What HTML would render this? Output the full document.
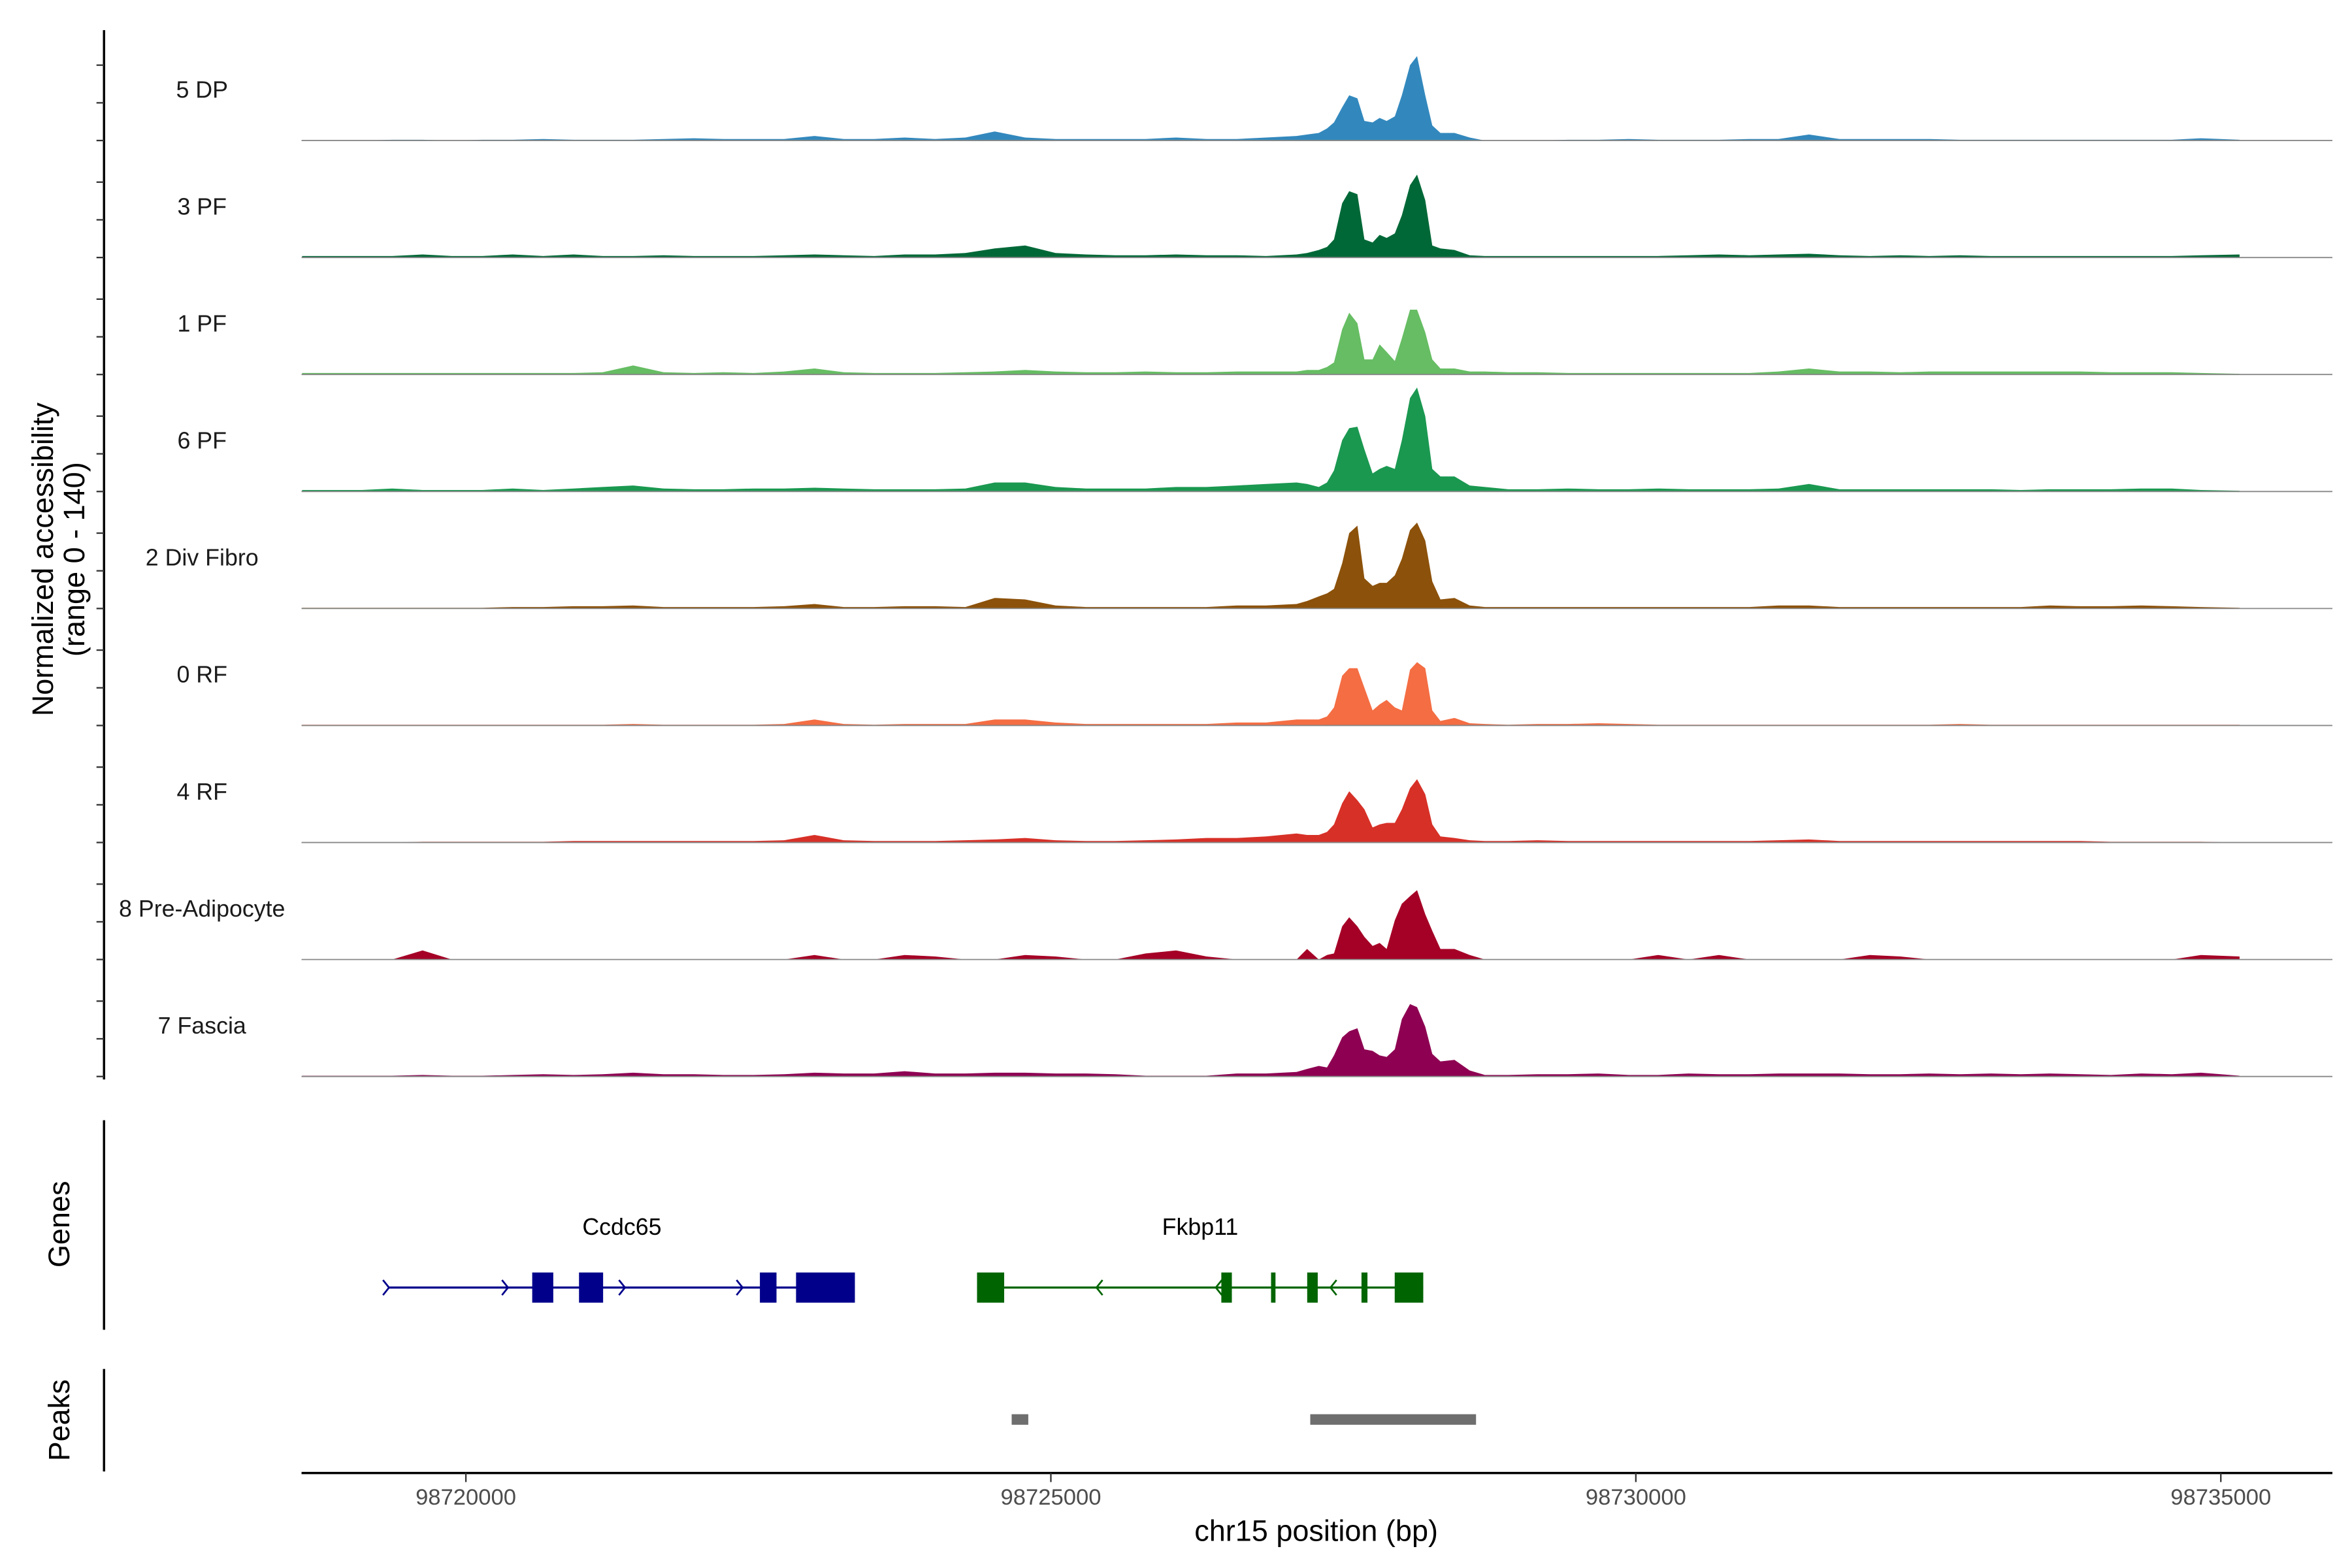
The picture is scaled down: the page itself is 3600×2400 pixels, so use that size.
<!DOCTYPE html>
<html><head><meta charset="utf-8"><style>html,body{margin:0;padding:0;background:#fff}svg{display:block}text{font-family:"Liberation Sans",Arial,sans-serif}</style></head>
<body>
<svg id="chart" width="3600" height="2400" viewBox="0 0 1560 1040" xmlns="http://www.w3.org/2000/svg">
<g id="tracks"></g>
<g id="genes"></g>
<g id="peaks"></g>
<g id="axes"></g>
<text transform="translate(35,371) rotate(-90)" text-anchor="middle" font-size="19.5" fill="#000">Normalized accessibility</text>
<text transform="translate(56,371) rotate(-90)" text-anchor="middle" font-size="19.5" fill="#000">(range 0 - 140)</text>
<text transform="translate(46,812) rotate(-90)" text-anchor="middle" font-size="19.5" fill="#000">Genes</text>
<text transform="translate(46,942) rotate(-90)" text-anchor="middle" font-size="19.5" fill="#000">Peaks</text>
<text x="873" y="1022" text-anchor="middle" font-size="19.5" fill="#000">chr15 position (bp)</text>
</svg>
<script>
const positions = [98718600,98718850,98719110,98719370,98719630,98719880,98720140,98720400,98720660,98720920,98721170,98721430,98721690,98721950,98722200,98722460,98722720,98722980,98723230,98723490,98723750,98724010,98724270,98724520,98724780,98725040,98725300,98725550,98725810,98726070,98726330,98726590,
98726840,98727100,98727190,98727290,98727360,98727420,98727490,98727550,98727620,98727680,98727750,98727810,98727870,98727940,98728000,98728070,98728130,98728200,98728260,98728330,98728450,98728580,98728710,
98728910,98729160,98729420,98729680,98729940,98730190,98730450,98730710,98730970,98731220,98731480,98731740,98732000,98732260,98732510,98732770,98733030,98733290,98733540,98733800,98734060,98734320,98734580,98734830,98735160];
const trackNames = ["5 DP","3 PF","1 PF","6 PF","2 Div Fibro","0 RF","4 RF","8 Pre-Adipocyte","7 Fascia"];
const trackColors = ["#3288bd","#006837","#66bd63","#1a9850","#8c510a","#f46d43","#d73027","#a50026","#8e0152"];
const dp5 = [0,0,0,1,1,0,1,1,2,1,1,1,2,3,2,2,2,6,2,2,4,2,4,12,4,2,2,2,2,4,2,2, 4,6,8,10,16,24,44,60,56,26,24,30,26,32,60,100,112,60,20,10,10,4,0, 0,0,1,1,2,1,1,1,2,2,8,2,2,2,2,1,1,1,1,1,1,1,1,3,1];
const pf3 = [2,2,2,2,4,2,2,4,2,4,2,2,3,2,2,2,3,4,3,2,4,4,6,12,16,6,4,3,3,4,3,3, 2,4,6,10,14,24,72,88,84,24,20,30,26,32,56,96,110,76,16,12,10,3,2, 2,2,2,2,2,2,3,4,3,4,5,3,2,3,2,3,2,2,2,2,2,2,2,3,4];
const pf1 = [2,2,2,2,2,2,2,2,2,2,3,12,3,2,3,2,4,8,3,2,2,2,3,4,6,4,3,3,4,3,3,4, 4,4,6,6,10,16,60,82,68,20,20,40,30,18,48,86,86,56,20,8,8,4,4, 3,3,2,2,2,2,2,2,2,4,8,4,4,3,4,4,4,4,4,4,3,3,3,2,1];
const pf6 = [2,2,2,4,2,2,2,4,2,4,6,8,4,3,3,4,4,5,4,3,3,3,4,12,12,6,4,4,4,6,6,8, 10,12,10,6,12,28,68,84,86,56,24,30,34,30,68,124,138,100,30,20,20,8,6, 3,3,4,3,3,4,3,3,3,4,10,3,3,3,3,3,3,2,3,3,3,4,4,2,1];
const divFibro2 = [1,1,1,1,1,1,1,2,2,3,3,4,2,2,2,2,3,6,2,2,3,3,2,14,12,4,2,2,2,2,2,4, 4,6,10,16,20,26,60,100,110,40,30,34,34,44,66,104,114,90,36,12,14,4,2, 2,2,2,2,2,2,2,2,2,4,4,2,2,2,2,2,2,2,4,3,3,4,3,2,1];
const rf0 = [1,1,1,1,1,1,1,1,1,1,1,2,1,1,1,1,2,8,2,1,2,2,2,8,8,4,2,2,2,2,2,4, 4,8,8,8,12,24,66,76,76,50,20,28,34,24,20,74,84,76,20,6,10,3,2, 1,2,2,3,2,1,1,1,1,1,1,1,1,1,1,2,1,1,1,1,1,1,1,1,1];
const rf4 = [0,0,0,0,1,1,1,1,1,2,2,2,2,2,2,2,3,10,3,2,2,2,3,4,6,3,2,2,3,4,6,6, 8,12,10,10,14,24,52,68,56,44,20,24,26,26,44,72,84,64,24,8,6,3,2, 2,3,2,2,2,2,2,2,2,3,4,2,2,2,2,2,2,2,2,2,1,1,1,1,0];
const preAdipo8 = [0,0,0,0,12,0,0,0,0,0,0,0,0,0,0,0,0,6,0,0,6,4,0,0,6,4,0,0,8,12,4,0, 0,0,14,0,6,8,44,56,44,30,18,22,14,52,74,84,92,60,38,14,14,6,0, 0,0,0,0,0,6,0,6,0,0,0,0,6,4,0,0,0,0,0,0,0,0,0,6,4];
const fascia7 = [1,1,1,1,2,1,1,2,3,2,3,5,3,3,2,2,3,5,4,4,7,4,4,5,5,4,4,3,1,1,1,4, 4,6,10,14,12,28,52,60,64,36,34,28,26,36,76,96,92,66,30,20,22,8,2, 2,3,3,4,2,2,4,3,3,4,4,4,3,3,4,3,4,3,4,3,2,4,3,5,1];
const trackValues = [dp5,pf3,pf1,pf6,divFibro2,rf0,rf4,preAdipo8,fascia7];
const xTicks = [98720000,98725000,98730000,98735000];
const geneNames = ["Ccdc65","Fkbp11"];
const geneStarts = [98719343,98724369];
const geneEnds = [98723325,98728183];
const geneStrands = [1,-1];
const geneColors = ["#00008b","#006400"];
const geneExons = [[[98720567,98720747],[98720967,98721173],[98722513,98722655],[98722822,98723325]],
 [[98724369,98724601],[98726457,98726547],[98726882,98726920],[98727191,98727281],[98727655,98727706],[98727939,98728183]]];
const geneArrows = [[98719343,98720360,98721360,98722365],[98725390,98726410,98727390]];
const peakStarts = [98724665,98727217];
const peakEnds = [98724807,98728634];

const NS="http://www.w3.org/2000/svg";
const X0=200,X1=1547;
function xs(bp){return 309+(bp-98720000)/5000*388;}
const yMax=140, trackPx=70, firstBase=93.2, trackStep=77.6;
function ys(v,base){return base - v/yMax*trackPx;}
function mk(tag,attrs,parent){const e=document.createElementNS(NS,tag);for(const k in attrs)e.setAttribute(k,attrs[k]);parent.appendChild(e);return e;}

const tg=document.getElementById('tracks');
trackValues.forEach((vals,i)=>{
  const base=firstBase+i*trackStep;
  const g=mk('g',{},tg);
  
  
  let d='M'+xs(positions[0]).toFixed(2)+','+base;
  vals.forEach((v,j)=>{d+=' L'+xs(positions[j]).toFixed(2)+','+ys(v,base).toFixed(2);});
  d+=' L'+xs(positions[positions.length-1]).toFixed(2)+','+base+' Z';
  const p=mk('path',{d:d,fill:trackColors[i]},g);
  
  
  const bl=mk('line',{x1:X0,x2:X1,y1:base,y2:base,stroke:'#888',"stroke-width":0.8},g);
  
  
  const t=mk('text',{x:134,y:base-28.5,"text-anchor":"middle","font-size":"15.5",fill:"#1a1a1a"},g);
  t.textContent=trackNames[i];
  
  
});

const gg=document.getElementById('genes');
const gy=854;
geneNames.forEach((n,i)=>{
  const g=mk('g',{},gg);
  
  
  const c=geneColors[i];
  mk('line',{x1:xs(geneStarts[i]),x2:xs(geneEnds[i]),y1:gy,y2:gy,stroke:c,"stroke-width":1.4},g);
  geneExons[i].forEach(ex=>{
    const r=mk('rect',{x:xs(ex[0]),y:gy-10,width:Math.max(2,xs(ex[1])-xs(ex[0])),height:20,fill:c},g);
    
    
  });
  geneArrows[i].forEach(a=>{
    const x=xs(a),s=geneStrands[i]*4;
    mk('path',{d:`M${x-s},${gy-5} L${x},${gy} L${x-s},${gy+5}`,fill:'none',stroke:c,"stroke-width":1.2},g);
  });
  const t=mk('text',{x:(xs(geneStarts[i])+xs(geneEnds[i]))/2,y:819,"text-anchor":"middle","font-size":"15.5",fill:"#000"},g);
  t.textContent=n;
  
  
});

const pg=document.getElementById('peaks');
peakStarts.forEach((s,i)=>{
  const r=mk('rect',{x:xs(s),y:938,width:xs(peakEnds[i])-xs(s),height:7,fill:'#6e6e6e'},pg);
  
  
});

const ag=document.getElementById('axes');
[[20,716],[743,882],[908,976]].forEach(s=>{
  const l=mk('line',{x1:69,x2:69,y1:s[0],y2:s[1],stroke:'#000',"stroke-width":1.5},ag);
  
  
});
for(let i=0;i<trackNames.length;i++){
  const base=firstBase+i*trackStep;
  [0,25,50].forEach(o=>{mk('line',{x1:64,x2:69,y1:base-o,y2:base-o,stroke:'#333',"stroke-width":1},ag);});
}
const xl=mk('line',{x1:X0,x2:X1,y1:977,y2:977,stroke:'#000',"stroke-width":1.5},ag);


xTicks.forEach(t=>{
  const x=xs(t);
  mk('line',{x1:x,x2:x,y1:977,y2:983,stroke:'#333',"stroke-width":1},ag);
  const tx=mk('text',{x:x,y:998,"text-anchor":"middle","font-size":"15","font-stretch":"condensed",fill:"#4d4d4d"},ag);
  tx.textContent=String(t);
  
  
});
</script>
</body></html>
